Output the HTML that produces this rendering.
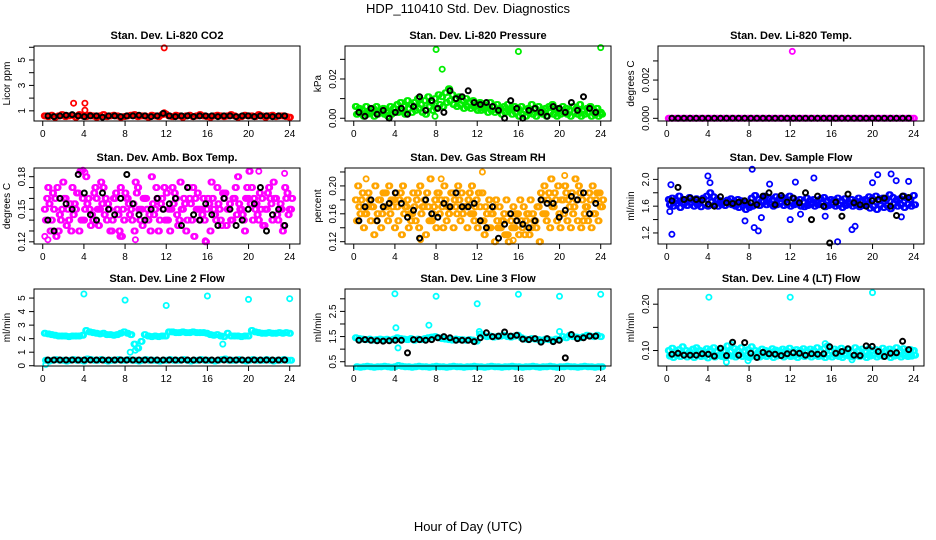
<!DOCTYPE html>
<html><head><meta charset="utf-8"><title>HDP_110410 Std. Dev. Diagnostics</title>
<style>
html,body{margin:0;padding:0;background:#fff;}
svg{display:block;font-family:"Liberation Sans",Arial,sans-serif;}
</style></head>
<body>
<svg id="chart" width="936" height="540" viewBox="0 0 936 540">
<text x="468" y="13" text-anchor="middle" font-size="13">HDP_110410  Std. Dev. Diagnostics</text>
<text x="468" y="531" text-anchor="middle" font-size="13">Hour of Day (UTC)</text>
</svg>
<script>
// ---------- data ----------
const xTicks = [0,4,8,12,16,20,24];

const co2Main = [0.6,0.55,0.65,0.5,0.6,0.7,0.55,0.6,0.65,0.5,0.7,0.6,0.55,0.65,0.6,0.5,0.6,0.7,0.55,0.6,0.65,0.6,0.5,0.55,0.6,0.65,0.7,0.55,0.6,0.6,0.5,0.65,0.6,0.55,0.7,0.75,0.6,0.55,0.65,0.6,0.5,0.6,0.65,0.55,0.6,0.7,0.6,0.55,0.5,0.6,0.65,0.6,0.55,0.6,0.7,0.6,0.5,0.55,0.65,0.6,0.6,0.55,0.7,0.6,0.5,0.6,0.65,0.55,0.6,0.6,0.55,0.5];
const co2Black = [0.6,0.55,0.6,0.65,0.7,0.6,0.55,0.6,0.6,0.5,0.6,0.6,0.55,0.6,0.6,0.65,0.6,0.55,0.6,0.8,0.6,0.55,0.6,0.6,0.55,0.6,0.6,0.6,0.55,0.6,0.6,0.55,0.6,0.6,0.55,0.6,0.6,0.55,0.6,0.6];
const co2OutX = [3,4.1,4.1,11.8,11.8];
const co2OutY = [1.6,1.6,1.05,5.95,0.85];

const presA = [0.006,0.005,0.004,0.006,0.003,0.005,0.006,0.004,0.005,0.003,0.006,0.005,0.007,0.008,0.006,0.009,0.007,0.008,0.010,0.007,0.009,0.011,0.008,0.010,0.012,0.011,0.013,0.015,0.012,0.010,0.011,0.009,0.010,0.008,0.009,0.007,0.008,0.007,0.006,0.008,0.006,0.007,0.005,0.006,0.007,0.005,0.006,0.005,0.006,0.004,0.005,0.007,0.005,0.006,0.004,0.005,0.006,0.007,0.005,0.004,0.006,0.005,0.004,0.006,0.005,0.007,0.004,0.005,0.006,0.004,0.005,0.003];
const presB = [0.002,0.003,0.001,0.002,0.003,0.001,0.002,0.003,0.002,0.001,0.002,0.003,0.003,0.004,0.002,0.005,0.003,0.004,0.005,0.003,0.002,0.006,0.004,0.005,0.007,0.006,0.008,0.009,0.007,0.006,0.007,0.005,0.006,0.005,0.006,0.004,0.004,0.005,0.003,0.004,0.003,0.004,0.002,0.003,0.004,0.002,0.003,0.001,0.002,0.001,0.003,0.002,0.001,0.003,0.002,0.001,0.003,0.002,0.001,0.002,0.003,0.002,0.001,0.003,0.002,0.001,0.002,0.003,0.001,0.002,0.001,0.002];
const presBlack = [0.003,0.001,0.005,0.002,0.004,0.0,0.003,0.005,0.002,0.006,0.011,0.004,0.009,0.005,0.003,0.014,0.010,0.011,0.014,0.008,0.007,0.008,0.006,0.004,0.0,0.009,0.005,0.0,0.004,0.005,0.003,0.001,0.006,0.005,0.003,0.008,0.004,0.011,0.005,0.003];
const presOutX = [8,8.6,16,24,7.9];
const presOutY = [0.035,0.025,0.034,0.036,0.001];

const tempMain = [0,0,0,0,0,0,0,0,0,0,0,0,0,0,0,0,0,0,0,0,0,0,0,0,0,0,0,0,0,0,0,0,0,0,0,0,0,0,0,0,0,0,0,0,0,0,0,0,0,0,0,0,0,0,0,0,0,0,0,0,0,0,0,0,0,0,0,0,0,0,0,0];
const tempBlack = [0,0,0,0,0,0,0,0,0,0,0,0,0,0,0,0,0,0,0,0,0,0,0,0,0,0,0,0,0,0,0,0,0,0,0,0,0,0,0,0];
const tempOutX = [12.2];
const tempOutY = [0.0035];

const ambA = [0.15,0.17,0.14,0.16,0.13,0.15,0.16,0.14,0.17,0.15,0.13,0.16,0.18,0.15,0.14,0.16,0.15,0.17,0.14,0.13,0.16,0.15,0.17,0.14,0.16,0.15,0.13,0.17,0.15,0.16,0.14,0.18,0.15,0.13,0.16,0.14,0.15,0.17,0.16,0.14,0.15,0.13,0.16,0.17,0.15,0.14,0.16,0.15,0.13,0.15,0.17,0.14,0.16,0.15,0.14,0.16,0.18,0.15,0.13,0.16,0.17,0.15,0.14,0.16,0.15,0.17,0.14,0.16,0.15,0.13,0.16,0.15];
const ambB = [0.14,0.155,0.165,0.125,0.145,0.175,0.135,0.155,0.145,0.165,0.185,0.14,0.155,0.135,0.165,0.15,0.175,0.145,0.155,0.13,0.16,0.145,0.125,0.165,0.155,0.14,0.175,0.15,0.135,0.16,0.145,0.155,0.17,0.14,0.15,0.165,0.13,0.155,0.145,0.175,0.16,0.14,0.155,0.125,0.165,0.15,0.14,0.16,0.175,0.145,0.155,0.135,0.165,0.15,0.14,0.17,0.155,0.145,0.16,0.185,0.14,0.155,0.165,0.135,0.15,0.16,0.175,0.145,0.155,0.135,0.165,0.15];
const ambC = [0.16,0.13,0.15,0.17,0.14,0.16,0.15,0.13,0.155,0.165,0.14,0.15,0.16,0.145,0.17,0.135,0.155,0.16,0.15,0.14,0.165,0.13,0.15,0.16,0.145,0.155,0.165,0.14,0.16,0.15,0.13,0.145,0.16,0.155,0.17,0.14,0.15,0.165,0.135,0.15,0.155,0.17,0.14,0.16,0.15,0.145,0.12,0.155,0.16,0.14,0.15,0.165,0.135,0.155,0.16,0.145,0.15,0.14,0.17,0.155,0.16,0.145,0.15,0.135,0.165,0.155,0.16,0.14,0.15,0.17,0.145,0.16];
const ambBlack = [0.14,0.13,0.16,0.155,0.15,0.182,0.165,0.145,0.14,0.165,0.15,0.145,0.16,0.182,0.155,0.145,0.14,0.15,0.16,0.15,0.155,0.16,0.135,0.17,0.145,0.14,0.155,0.145,0.135,0.16,0.15,0.135,0.14,0.15,0.155,0.17,0.13,0.145,0.15,0.135];
const ambOutX = [0.2,0.5,3.9,4.1,21,23.5,9,15.8,7.5];
const ambOutY = [0.125,0.122,0.186,0.184,0.185,0.183,0.122,0.121,0.125];

const rhA = [0.18,0.17,0.19,0.16,0.18,0.17,0.15,0.18,0.19,0.17,0.16,0.18,0.17,0.19,0.16,0.18,0.15,0.17,0.19,0.16,0.18,0.17,0.15,0.18,0.19,0.17,0.18,0.16,0.19,0.17,0.18,0.16,0.17,0.19,0.16,0.18,0.17,0.15,0.16,0.14,0.17,0.15,0.14,0.16,0.13,0.15,0.14,0.16,0.15,0.13,0.16,0.14,0.15,0.17,0.18,0.16,0.19,0.17,0.18,0.16,0.18,0.19,0.17,0.16,0.18,0.19,0.15,0.17,0.18,0.16,0.19,0.17];
const rhB = [0.15,0.16,0.14,0.17,0.15,0.13,0.16,0.14,0.17,0.15,0.18,0.14,0.15,0.13,0.17,0.14,0.16,0.15,0.14,0.17,0.13,0.15,0.16,0.14,0.16,0.14,0.15,0.17,0.14,0.16,0.15,0.17,0.14,0.16,0.15,0.14,0.15,0.13,0.14,0.16,0.12,0.14,0.15,0.13,0.12,0.14,0.16,0.13,0.14,0.15,0.13,0.16,0.14,0.12,0.16,0.15,0.14,0.17,0.15,0.14,0.16,0.15,0.14,0.17,0.15,0.14,0.16,0.15,0.14,0.16,0.15,0.17];
const rhC = [0.2,0.18,0.16,0.19,0.17,0.2,0.18,0.16,0.19,0.2,0.17,0.19,0.18,0.2,0.17,0.16,0.19,0.18,0.2,0.17,0.19,0.21,0.17,0.19,0.18,0.2,0.17,0.19,0.18,0.2,0.19,0.17,0.18,0.2,0.17,0.19,0.19,0.17,0.18,0.16,0.18,0.17,0.15,0.18,0.16,0.17,0.15,0.18,0.17,0.16,0.18,0.15,0.17,0.19,0.2,0.18,0.21,0.19,0.2,0.18,0.2,0.18,0.19,0.21,0.2,0.18,0.17,0.19,0.2,0.18,0.19,0.18];
const rhBlack = [0.15,0.17,0.18,0.15,0.17,0.175,0.19,0.175,0.155,0.165,0.125,0.18,0.16,0.155,0.175,0.17,0.19,0.17,0.17,0.175,0.15,0.14,0.17,0.125,0.145,0.16,0.15,0.145,0.14,0.15,0.18,0.175,0.175,0.155,0.165,0.185,0.18,0.19,0.16,0.175];
const rhOutX = [1.2,8.5,12.5,20.5,6.5,15.5];
const rhOutY = [0.21,0.21,0.22,0.215,0.123,0.122];

const flowA = [1.70,1.72,1.68,1.75,1.66,1.70,1.73,1.69,1.71,1.67,1.72,1.75,1.80,1.74,1.70,1.68,1.66,1.69,1.71,1.67,1.70,1.68,1.65,1.62,1.72,1.76,1.70,1.68,1.75,1.72,1.69,1.74,1.71,1.73,1.70,1.75,1.72,1.68,1.70,1.66,1.72,1.69,1.70,1.67,1.71,1.73,1.68,1.70,1.69,1.72,1.68,1.71,1.66,1.70,1.68,1.72,1.69,1.70,1.74,1.71,1.75,1.68,1.72,1.70,1.77,1.73,1.69,1.71,1.75,1.72,1.70,1.76];
const flowB = [1.62,1.60,1.64,1.58,1.63,1.61,1.65,1.60,1.62,1.59,1.64,1.60,1.66,1.62,1.60,1.63,1.61,1.64,1.62,1.60,1.58,1.62,1.55,1.58,1.60,1.63,1.61,1.66,1.62,1.64,1.60,1.62,1.65,1.61,1.63,1.60,1.62,1.64,1.60,1.59,1.61,1.63,1.60,1.62,1.64,1.59,1.61,1.63,1.60,1.62,1.58,1.61,1.63,1.60,1.62,1.59,1.61,1.63,1.57,1.60,1.55,1.62,1.58,1.61,1.56,1.64,1.60,1.62,1.58,1.63,1.60,1.62];
const flowBlack = [1.68,1.88,1.70,1.72,1.70,1.69,1.63,1.60,1.74,1.65,1.64,1.66,1.68,1.65,1.62,1.75,1.80,1.62,1.76,1.66,1.72,1.65,1.80,1.40,1.75,1.60,1.05,1.66,1.45,1.78,1.65,1.62,1.60,1.68,1.70,1.72,1.60,1.46,1.75,1.73];
const flowOutX = [0.3,0.5,0.4,4,4.2,8.3,7.6,8.5,8.9,9.2,10,12.5,12,14.3,16.6,18,18.3,20,20.5,21.8,22.3,23.5,22.8,15.4,13];
const flowOutY = [1.52,1.18,1.92,2.05,1.95,2.15,1.38,1.28,1.23,1.43,1.93,1.96,1.40,2.02,1.07,1.25,1.30,1.95,2.07,2.08,1.98,1.97,1.44,1.45,1.48];

const line2Upper = [2.4,2.35,2.3,2.25,2.2,2.2,2.2,2.15,2.2,2.2,2.2,2.25,2.6,2.5,2.45,2.4,2.35,2.4,2.3,2.3,2.25,2.3,2.4,2.5,2.4,2.3,1.6,1.3,1.8,2.3,2.2,2.15,2.2,2.15,2.2,2.2,2.5,2.5,2.45,2.45,2.5,2.45,2.45,2.5,2.45,2.45,2.45,2.4,2.3,2.25,2.3,2.2,2.15,2.4,2.2,2.2,2.2,2.15,2.2,2.2,2.6,2.5,2.45,2.4,2.4,2.45,2.4,2.4,2.45,2.4,2.45,2.4];
const line2Lower = [0.4,0.35,0.4,0.45,0.4,0.4,0.35,0.4,0.45,0.4,0.4,0.35,0.5,0.45,0.4,0.4,0.45,0.4,0.35,0.4,0.4,0.45,0.4,0.4,0.45,0.4,0.4,0.35,0.4,0.45,0.4,0.4,0.4,0.35,0.4,0.4,0.45,0.4,0.4,0.4,0.45,0.4,0.35,0.4,0.4,0.45,0.4,0.4,0.4,0.35,0.4,0.45,0.5,0.4,0.4,0.4,0.45,0.4,0.35,0.4,0.45,0.4,0.4,0.4,0.45,0.4,0.35,0.4,0.4,0.45,0.4,0.4];
const line2Black = [0.42,0.42,0.42,0.42,0.42,0.42,0.42,0.42,0.42,0.42,0.42,0.42,0.42,0.42,0.42,0.42,0.42,0.42,0.42,0.42,0.42,0.42,0.42,0.42,0.42,0.42,0.42,0.42,0.42,0.42,0.42,0.42,0.42,0.42,0.42,0.42,0.42,0.42,0.42,0.42];
const line2OutX = [4,8,12,16,20,24,8.5,9,17.5,0.3];
const line2OutY = [5.3,4.85,4.45,5.15,4.9,4.95,1.0,1.15,1.6,0.1];

const line3Upper = [1.45,1.42,1.4,1.38,1.4,1.36,1.38,1.4,1.37,1.39,1.36,1.4,1.45,1.42,1.4,1.38,1.42,1.35,1.4,1.38,1.42,1.45,1.48,1.5,1.45,1.42,1.4,1.38,1.36,1.4,1.38,1.37,1.35,1.38,1.36,1.32,1.6,1.55,1.5,1.52,1.48,1.5,1.52,1.55,1.5,1.48,1.52,1.55,1.45,1.4,1.38,1.42,1.4,1.38,1.35,1.4,1.38,1.36,1.4,1.38,1.5,1.45,1.55,1.5,1.48,1.45,1.5,1.55,1.52,1.5,1.55,1.5];
const line3Lower = [0.3,0.28,0.3,0.32,0.3,0.28,0.3,0.3,0.32,0.3,0.28,0.3,0.35,0.32,0.3,0.3,0.28,0.3,0.32,0.3,0.3,0.28,0.3,0.32,0.3,0.3,0.28,0.3,0.32,0.3,0.3,0.28,0.3,0.3,0.32,0.3,0.3,0.28,0.3,0.32,0.3,0.3,0.28,0.3,0.3,0.32,0.3,0.3,0.28,0.3,0.3,0.32,0.3,0.28,0.3,0.3,0.32,0.3,0.28,0.3,0.3,0.32,0.3,0.3,0.28,0.3,0.32,0.3,0.3,0.28,0.3,0.3];
const line3Black = [1.35,1.38,1.35,1.33,1.32,1.33,1.35,1.35,0.85,1.38,1.38,1.35,1.38,1.45,1.5,1.45,1.35,1.35,1.35,1.3,1.45,1.65,1.5,1.52,1.68,1.52,1.55,1.4,1.38,1.42,1.28,1.42,1.3,1.35,0.65,1.58,1.42,1.45,1.52,1.52];
const line3OutX = [4,8,12,16,20,24,7.3,4.1,12.2,20,4.3];
const line3OutY = [3.2,3.1,2.8,3.18,3.1,3.18,1.95,1.85,1.7,1.7,1.05];

const line4A = [0.1,0.105,0.098,0.102,0.108,0.1,0.097,0.103,0.106,0.1,0.098,0.104,0.101,0.106,0.099,0.103,0.1,0.11,0.098,0.104,0.1,0.106,0.099,0.102,0.108,0.1,0.097,0.103,0.1,0.098,0.104,0.101,0.099,0.103,0.1,0.105,0.098,0.102,0.1,0.104,0.099,0.103,0.1,0.106,0.098,0.104,0.11,0.1,0.103,0.099,0.105,0.1,0.102,0.098,0.106,0.1,0.103,0.099,0.104,0.1,0.102,0.098,0.105,0.1,0.103,0.099,0.106,0.1,0.104,0.098,0.102,0.1];
const line4B = [0.088,0.085,0.09,0.087,0.092,0.086,0.089,0.085,0.091,0.087,0.088,0.084,0.09,0.086,0.089,0.087,0.085,0.09,0.088,0.086,0.091,0.087,0.089,0.085,0.088,0.09,0.086,0.089,0.087,0.091,0.085,0.088,0.09,0.086,0.089,0.087,0.088,0.085,0.09,0.087,0.089,0.086,0.091,0.087,0.088,0.085,0.09,0.086,0.089,0.087,0.085,0.09,0.088,0.086,0.091,0.087,0.089,0.085,0.088,0.09,0.086,0.089,0.087,0.091,0.085,0.088,0.09,0.086,0.089,0.087,0.088,0.09];
const line4Black = [0.092,0.094,0.09,0.09,0.09,0.093,0.092,0.088,0.105,0.089,0.118,0.09,0.117,0.094,0.085,0.096,0.093,0.092,0.089,0.093,0.095,0.094,0.09,0.093,0.092,0.093,0.108,0.094,0.098,0.104,0.09,0.089,0.11,0.109,0.098,0.087,0.094,0.095,0.12,0.102];
const line4OutX = [4.1,12,20,5.8,18,7.9,15.4,6.3];
const line4OutY = [0.215,0.215,0.225,0.075,0.08,0.078,0.115,0.113];

// ---------- panel layout (styling, not data) ----------
const panels = [
 {id:'co2',title:'Stan. Dev. Li-820 CO2',ylab:'Licor ppm',col:0,row:0,ymin:0.2,ymax:6.1,ticks:[1,2,3,4,5,6],labels:{1:'1',3:'3',5:'5'},color:'#ff0000',series:[co2Main],black:co2Black,ox:co2OutX,oy:co2OutY},
 {id:'pressure',title:'Stan. Dev. Li-820 Pressure',ylab:'kPa',col:1,row:0,ymin:-0.0014,ymax:0.0368,ticks:[0,0.01,0.02,0.03],labels:{0:'0.00',0.02:'0.02'},color:'#00ee00',series:[presA,presB],black:presBlack,ox:presOutX,oy:presOutY},
 {id:'temp',title:'Stan. Dev. Li-820 Temp.',ylab:'degrees C',col:2,row:0,ymin:-0.00014,ymax:0.00378,ticks:[0,0.001,0.002,0.003],labels:{0:'0.000',0.002:'0.002'},color:'#ff00ff',series:[tempMain],black:tempBlack,ox:tempOutX,oy:tempOutY},
 {id:'ambbox',title:'Stan. Dev. Amb. Box Temp.',ylab:'degrees C',col:0,row:1,ymin:0.118,ymax:0.188,ticks:[0.12,0.13,0.14,0.15,0.16,0.17,0.18],labels:{0.12:'0.12',0.15:'0.15',0.18:'0.18'},color:'#ff00ff',series:[ambA,ambB,ambC],black:ambBlack,ox:ambOutX,oy:ambOutY},
 {id:'rh',title:'Stan. Dev. Gas Stream RH',ylab:'percent',col:1,row:1,ymin:0.1167,ymax:0.2257,ticks:[0.12,0.14,0.16,0.18,0.2,0.22],labels:{0.12:'0.12',0.16:'0.16',0.2:'0.20'},color:'#ffa500',series:[rhA,rhB,rhC],black:rhBlack,ox:rhOutX,oy:rhOutY},
 {id:'sampleflow',title:'Stan. Dev. Sample Flow',ylab:'ml/min',col:2,row:1,ymin:1.035,ymax:2.17,ticks:[1.2,1.4,1.6,1.8,2.0],labels:{1.2:'1.2',1.6:'1.6',2:'2.0'},color:'#0000ff',series:[flowA,flowB],black:flowBlack,ox:flowOutX,oy:flowOutY},
 {id:'line2',title:'Stan. Dev. Line 2 Flow',ylab:'ml/min',col:0,row:2,ymin:-0.02,ymax:5.67,ticks:[0,1,2,3,4,5],labels:{0:'0',1:'1',2:'2',3:'3',4:'4',5:'5'},color:'#00ffff',series:[line2Upper,line2Lower],black:line2Black,ox:line2OutX,oy:line2OutY},
 {id:'line3',title:'Stan. Dev. Line 3 Flow',ylab:'ml/min',col:1,row:2,ymin:0.33,ymax:3.39,ticks:[0.5,1,1.5,2,2.5,3],labels:{0.5:'0.5',1.5:'1.5',2.5:'2.5'},color:'#00ffff',series:[line3Upper,line3Lower],black:line3Black,ox:line3OutX,oy:line3OutY},
 {id:'line4',title:'Stan. Dev. Line 4 (LT) Flow',ylab:'ml/min',col:2,row:2,ymin:0.0666,ymax:0.2328,ticks:[0.1,0.15,0.2],labels:{0.1:'0.10',0.2:'0.20'},color:'#00ffff',series:[line4A,line4B],black:line4Black,ox:line4OutX,oy:line4OutY}
];
const colLeft = [34,345,658];
const rowTop = [46,168,289];
const rowBottom = [121,244,366];
const boxW = 266;
const XMIN = -0.85, XMAX = 25.0;

const NS = 'http://www.w3.org/2000/svg';
const svg = document.getElementById('chart');
function mk(tag, attrs, parent){
  const el = document.createElementNS(NS, tag);
  for (const k in attrs) el.setAttribute(k, attrs[k]);
  (parent||svg).appendChild(el);
  return el;
}

panels.forEach(p => {
  const L = colLeft[p.col], R = L + boxW, T = rowTop[p.row], B = rowBottom[p.row];
  const xs = h => L + (h - XMIN) / (XMAX - XMIN) * boxW;
  const ys = v => B - (v - p.ymin) / (p.ymax - p.ymin) * (B - T);
  const g = mk('g', {});
  
  

  const t = mk('text', {x:(L+R)/2, y:T-7, 'text-anchor':'middle', 'font-size':'11', 'font-weight':'bold'}, g);
  t.textContent = p.title;
  
  

  const yl = mk('text', {x:0, y:0, 'text-anchor':'middle', 'font-size':'10', transform:`translate(${L-24},${(T+B)/2}) rotate(-90)`}, g);
  yl.textContent = p.ylab;
  
  

  const pts = mk('g', {fill:'none', 'stroke-width':'1.8'}, g);
  
  
  const n = 72;
  p.series.forEach((arr, si) => {
    arr.forEach((v, i) => {
      const h = 0.15 + i * (23.8 / (n - 1)) + si * 0.11;
      [0, 0.12].forEach(dx => {
        const c = mk('circle', {cx:xs(h+dx).toFixed(1), cy:ys(v).toFixed(1), r:'2.6', stroke:p.color}, pts);
        
        
      });
    });
  });
  p.ox.forEach((h, i) => {
    const c = mk('circle', {cx:xs(h).toFixed(1), cy:ys(p.oy[i]).toFixed(1), r:'2.6', stroke:p.color}, pts);
    
    
  });
  const bk = mk('g', {fill:'none', 'stroke-width':'2', stroke:'#000'}, g);
  
  
  p.black.forEach((v, i) => {
    const h = 0.5 + i * 0.59;
    const c = mk('circle', {cx:xs(h).toFixed(1), cy:ys(v).toFixed(1), r:'2.5'}, bk);
    
    
  });

  const box = mk('rect', {x:L, y:T, width:boxW, height:B-T, fill:'none', stroke:'#000', 'stroke-width':'1'}, g);
  
  

  p.ticks.forEach(v => {
    const y = ys(v);
    const tk = mk('line', {x1:L, x2:L-5, y1:y, y2:y, stroke:'#000'}, g);
    
    
    const lab = p.labels[v];
    if (lab !== undefined) {
      const tl = mk('text', {x:0, y:0, 'text-anchor':'middle', 'font-size':'10', transform:`translate(${L-9},${y}) rotate(-90)`}, g);
      tl.textContent = lab;
      
      
    }
  });
  xTicks.forEach(h => {
    const x = xs(h);
    const tk = mk('line', {x1:x, x2:x, y1:B, y2:B+5, stroke:'#000'}, g);
    
    
    const tl = mk('text', {x:x, y:B+16, 'text-anchor':'middle', 'font-size':'10'}, g);
    tl.textContent = String(h);
    
    
  });
});
</script>
</body></html>
